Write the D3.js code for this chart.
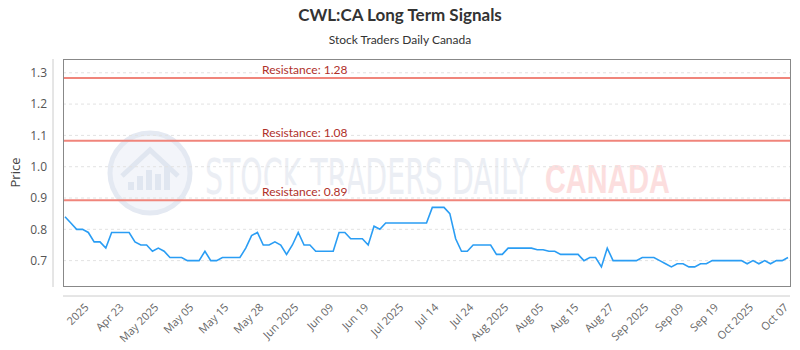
<!DOCTYPE html>
<html>
<head>
<meta charset="utf-8">
<script src="https://cdn.jsdelivr.net/npm/d3@7"></script>
<style>
    body { margin: 0; background: #fff; }
    svg { display: block; }
</style>
</head>
<body>
<svg role="chart"></svg>
<script>
// chart data
var tickLabels = ['2025', 'Apr 23', 'May 2025', 'May 05', 'May 15', 'May 28',
    'Jun 2025', 'Jun 09', 'Jun 19', 'Jul 2025', 'Jul 14', 'Jul 24',
    'Aug 2025', 'Aug 05', 'Aug 15', 'Aug 27', 'Sep 2025', 'Sep 09',
    'Sep 19', 'Oct 2025', 'Oct 07'];

var prices = [
    0.84, 0.82, 0.80, 0.80, 0.79, 0.76, 0.76, 0.74, 0.79, 0.79,
    0.79, 0.79, 0.76, 0.75, 0.75, 0.73, 0.74, 0.73, 0.71, 0.71,
    0.71, 0.70, 0.70, 0.70, 0.73, 0.70, 0.70, 0.71, 0.71, 0.71,
    0.71, 0.74, 0.78, 0.79, 0.75, 0.75, 0.76, 0.75, 0.72, 0.75,
    0.79, 0.75, 0.75, 0.73, 0.73, 0.73, 0.73, 0.79, 0.79, 0.77,
    0.77, 0.77, 0.75, 0.81, 0.80, 0.82, 0.82, 0.82, 0.82, 0.82,
    0.82, 0.82, 0.82, 0.87, 0.87, 0.87, 0.85, 0.77, 0.73, 0.73,
    0.75, 0.75, 0.75, 0.75, 0.72, 0.72, 0.74, 0.74, 0.74, 0.74,
    0.74, 0.735, 0.735, 0.73, 0.73, 0.72, 0.72, 0.72, 0.72, 0.70,
    0.71, 0.71, 0.68, 0.74, 0.70, 0.70, 0.70, 0.70, 0.70, 0.71,
    0.71, 0.71, 0.70, 0.69, 0.68, 0.69, 0.69, 0.68, 0.68, 0.69,
    0.69, 0.70, 0.70, 0.70, 0.70, 0.70, 0.70, 0.69, 0.70, 0.69,
    0.70, 0.69, 0.70, 0.70, 0.71
];

var resistances = [1.28, 1.08, 0.89];
var yTicks = [0.7, 0.8, 0.9, 1.0, 1.1, 1.2, 1.3];

// overall configuration
var width = 800,
    height = 350,
    plot = { left: 63, right: 790, top: 59, bottom: 286 };

var svg = d3.select('[role="chart"]')
    .attr('width', width)
    .attr('height', height);

var x = d3.scaleLinear()
    .domain([0, prices.length - 1])
    .range([plot.left + 2, plot.right - 2]);

var y = d3.scaleLinear()
    .domain([0.619, 1.344])
    .range([plot.bottom, plot.top]);

// titles
svg.append('text')
    .attr('x', width / 2).attr('y', 21)
    .attr('text-anchor', 'middle')
    .style('font-family', 'Lato, sans-serif')
    .style('font-weight', 'bold')
    .style('font-size', '17px')
    .attr('fill', '#333')
    .text('CWL:CA Long Term Signals');

svg.append('text')
    .attr('x', width / 2).attr('y', 44)
    .attr('text-anchor', 'middle')
    .style('font-family', 'Lato, sans-serif')
    .style('font-size', '12px')
    .attr('fill', '#333')
    .text('Stock Traders Daily Canada');

// watermark (logo + name)
var wm = svg.append('g');
wm.append('circle')
    .attr('cx', 150).attr('cy', 173).attr('r', 40)
    .attr('fill', '#f3f5fa')
    .attr('stroke', '#e4e9f2')
    .attr('stroke-width', 5);
wm.append('path')
    .attr('d', 'M122,176 L150,150 L178,176')
    .attr('fill', 'none')
    .attr('stroke', '#e0e6f0')
    .attr('stroke-width', 5);
wm.selectAll('rect.wmbar')
    .data([0, 1, 2, 3, 4])
    .enter()
    .append('rect')
    .attr('class', 'wmbar')
    .attr('x', function (d) { return 128 + d * 9; })
    .attr('y', function (d) { return 190 - [8, 14, 20, 16, 24][d]; })
    .attr('width', 6)
    .attr('height', function (d) { return [8, 14, 20, 16, 24][d]; })
    .attr('fill', '#e0e6f0');

// squeeze a word horizontally to a given width
function fitText(sel, left, base, w) {
    var natural = sel.node().getComputedTextLength();
    sel.attr('transform', 'translate(' + left + ',' + base + ') scale(' + (w / natural) + ',1)');
}

var wmName = wm.append('text')
    .style('font-family', '"Liberation Sans Narrow", "DejaVu Sans Condensed", sans-serif')
    .style('font-size', '49px')
    .attr('fill', '#ebeef4')
    .text('STOCK TRADERS DAILY');
fitText(wmName, 205, 194, 325);

var wmCountry = wm.append('text')
    .style('font-family', '"Liberation Sans", sans-serif')
    .style('font-weight', 'bold')
    .style('font-size', '40px')
    .attr('fill', '#fcdede')
    .text('CANADA');
fitText(wmCountry, 545, 193, 125);

// dashed gridlines
svg.append('g')
    .selectAll('line')
    .data(yTicks)
    .enter()
    .append('line')
    .attr('x1', plot.left).attr('x2', plot.right)
    .attr('y1', function (d) { return y(d); })
    .attr('y2', function (d) { return y(d); })
    .attr('stroke', '#e2e2e2')
    .attr('stroke-dasharray', '3,3');

// y axis
var yAxis = svg.append('g')
    .attr('transform', 'translate(53,0)')
    .call(d3.axisLeft(y).tickValues(yTicks).tickSize(0).tickPadding(6)
        .tickFormat(d3.format('.1f')));
yAxis.select('.domain').attr('stroke', '#ccc').attr('d', 'M0,' + plot.top + 'V' + (plot.bottom + 1));
yAxis.selectAll('text')
    .style('font-family', '"Open Sans", sans-serif')
    .style('font-size', '12px')
    .attr('fill', '#555');

svg.append('text')
    .attr('transform', 'translate(20,' + ((plot.top + plot.bottom) / 2) + ') rotate(-90)')
    .attr('text-anchor', 'middle')
    .style('font-family', '"Open Sans", sans-serif')
    .style('font-size', '13px')
    .attr('fill', '#444')
    .text('Price');

// x axis, a label every 6 sessions
var tickIdx = d3.range(3, prices.length, 6);
var xAxis = svg.append('g')
    .attr('transform', 'translate(0,296)')
    .call(d3.axisBottom(x).tickValues(tickIdx).tickSize(0)
        .tickFormat(function (d, i) { return tickLabels[i]; }));
xAxis.select('.domain').attr('stroke', '#ccc').attr('d', 'M' + plot.left + ',0H' + plot.right);
xAxis.selectAll('text')
    .style('font-family', '"Open Sans", sans-serif')
    .style('font-size', '11px')
    .attr('fill', '#666')
    .attr('text-anchor', 'end')
    .attr('y', 0)
    .attr('dx', '-4px')
    .attr('dy', '13px')
    .attr('transform', 'rotate(-45)');

// resistance lines
var res = svg.append('g')
    .selectAll('g')
    .data(resistances)
    .enter()
    .append('g');

res.append('line')
    .attr('x1', plot.left).attr('x2', plot.right)
    .attr('y1', function (d) { return y(d) - 1; })
    .attr('y2', function (d) { return y(d) - 1; })
    .attr('stroke', '#f0857b')
    .attr('stroke-width', 2);

res.append('rect')
    .attr('x', 260)
    .attr('y', function (d) { return y(d) - 16; })
    .attr('width', 88)
    .attr('height', 13)
    .attr('fill', '#fff');

res.append('text')
    .attr('x', 262)
    .attr('y', function (d) { return y(d) - 5; })
    .style('font-family', 'Lato, sans-serif')
    .style('font-size', '12px')
    .attr('fill', '#b0302a')
    .text(function (d) { return 'Resistance: ' + d.toFixed(2); });

// price line
var line = d3.line()
    .x(function (d, i) { return x(i); })
    .y(function (d) { return y(d); });

svg.append('path')
    .datum(prices)
    .attr('d', line)
    .attr('fill', 'none')
    .attr('stroke', '#2a9df4')
    .attr('stroke-width', 1.6);

// plot frame
svg.append('rect')
    .attr('x', plot.left + 0.5).attr('y', plot.top + 0.5)
    .attr('width', plot.right - plot.left)
    .attr('height', plot.bottom - plot.top)
    .attr('fill', 'none')
    .attr('stroke', '#888');
</script>
</body>
</html>
